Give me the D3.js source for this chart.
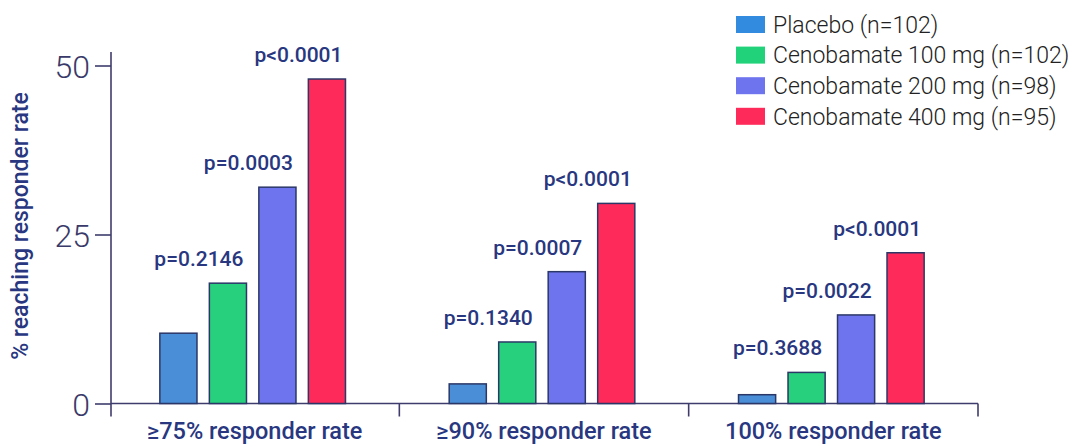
<!DOCTYPE html>
<html>
<head>
<meta charset="utf-8">
<script src="https://cdn.jsdelivr.net/npm/d3@7"></script>
<style>
  html, body { margin: 0; padding: 0; background: #ffffff; }
  svg { display: block; }
</style>
</head>
<body>
<svg id="chart" width="1078" height="445"></svg>
<script>
// ---- data ----
const categories = ["≥75% responder rate", "≥90% responder rate", "100% responder rate"];
const seriesNames = ["Placebo (n=102)", "Cenobamate 100 mg (n=102)", "Cenobamate 200 mg (n=98)", "Cenobamate 400 mg (n=95)"];
const placebo = [10.4, 2.9, 1.3];
const ceno100 = [17.8, 9.1, 4.6];
const ceno200 = [32.0, 19.5, 13.1];
const ceno400 = [48.0, 29.6, 22.3];
const pValues100 = ["p=0.2146", "p=0.1340", "p=0.3688"];
const pValues200 = ["p=0.0003", "p=0.0007", "p=0.0022"];
const pValues400 = ["p<0.0001", "p<0.0001", "p<0.0001"];
const yTicks = [0, 25, 50];
const yTitle = "% reaching responder rate";
const colors = ["#4a8ed8", "#27d07c", "#6e74ee", "#fe2b5a"];
const legendColors = ["#338be0", "#22d27a", "#6e74ee", "#fe2b5a"];

const seriesValues = [placebo, ceno100, ceno200, ceno400];
const seriesP = [null, pValues100, pValues200, pValues400];

// ---- layout ----
const svg = d3.select("#chart");
const navy = "#28377f";
const axisCol = "#3e3c6c";

const x0 = d3.scaleBand().domain(categories).range([110, 978]);
const x1 = d3.scaleBand().domain(seriesNames).range([0, 198]).paddingInner(0.25).paddingOuter(0.125);
const y = d3.scaleLinear().domain([0, 50]).range([403.5, 65.5]);

const groupOffset = c => x0(c) + x0.bandwidth() / 2 - 99 - 2;

// x axis baseline
svg.append("line")
  .attr("x1", 111).attr("x2", x0.range()[1])
  .attr("y1", y(0)).attr("y2", y(0))
  .attr("stroke", axisCol).attr("stroke-width", 1.6);

// x separators (band boundaries)
const boundaries = categories.map(c => x0(c) + x0.bandwidth());
svg.selectAll("line.sep").data(boundaries).join("line")
  .attr("class", "sep")
  .attr("x1", d => d).attr("x2", d => d)
  .attr("y1", y(0)).attr("y2", y(0) + 13)
  .attr("stroke", axisCol).attr("stroke-width", 1.6);

// y axis
const yAxis = d3.axisLeft(y).tickValues(yTicks).tickSize(16).tickPadding(5).tickFormat(d3.format("d"));
const gy = svg.append("g").attr("transform", "translate(111,0)").call(yAxis);
gy.select(".domain").remove();
gy.selectAll(".tick line").attr("stroke", axisCol).attr("stroke-width", 1.6);
gy.selectAll(".tick text")
  .attr("fill", "#3a3a6a")
  .attr("font-family", "Roboto, sans-serif")
  .attr("font-weight", 300)
  .attr("font-size", 32)
  .attr("dy", "0.36em");
svg.append("line")
  .attr("x1", 111).attr("x2", 111)
  .attr("y1", 52).attr("y2", y(0) + 13)
  .attr("stroke", axisCol).attr("stroke-width", 1.6);

// y title
svg.append("text")
  .attr("transform", "translate(28,226) rotate(-90)")
  .attr("text-anchor", "middle")
  .attr("fill", navy)
  .attr("font-family", "Roboto, sans-serif")
  .attr("font-weight", 500)
  .attr("font-size", 23)
  .text(yTitle);

// category labels
svg.selectAll("text.cat").data(categories).join("text")
  .attr("class", "cat")
  .attr("x", d => x0(d) + x0.bandwidth() / 2)
  .attr("y", 439)
  .attr("text-anchor", "middle")
  .attr("fill", navy)
  .attr("font-family", "Roboto, sans-serif")
  .attr("font-weight", 500)
  .attr("font-size", 23.5)
  .text(d => d);

// bars
const barData = [];
seriesNames.forEach((s, si) => {
  categories.forEach((c, ci) => {
    barData.push({ s, si, c, v: seriesValues[si][ci], p: seriesP[si] ? seriesP[si][ci] : null });
  });
});

svg.selectAll("rect.bar").data(barData).join("rect")
  .attr("class", "bar")
  .attr("x", d => groupOffset(d.c) + x1(d.s))
  .attr("y", d => y(d.v))
  .attr("width", x1.bandwidth())
  .attr("height", d => y(0) - y(d.v))
  .attr("fill", d => colors[d.si])
  .attr("stroke", "#2b3767")
  .attr("stroke-width", 1.5);

// p-value labels
svg.selectAll("text.pval").data(barData.filter(d => d.p)).join("text")
  .attr("class", "pval")
  .attr("x", d => groupOffset(d.c) + x1(d.s) + x1.bandwidth() - 3)
  .attr("y", d => y(d.v) - 17)
  .attr("text-anchor", "end")
  .attr("fill", navy)
  .attr("font-family", "Roboto, sans-serif")
  .attr("font-weight", 500)
  .attr("font-size", 21)
  .text(d => d.p);

// legend
const lg = svg.append("g").attr("transform", "translate(736,16)");
const rows = lg.selectAll("g").data(seriesNames).join("g")
  .attr("transform", (d, i) => `translate(0,${i * 30.6})`);
rows.append("rect")
  .attr("width", 29).attr("height", 17)
  .attr("fill", (d, i) => legendColors[i]);
rows.append("text")
  .attr("x", 37).attr("y", 8.5).attr("dy", "0.36em")
  .attr("fill", "#222")
  .attr("font-family", "Roboto, sans-serif")
  .attr("font-weight", 300)
  .attr("font-size", 23)
  .text(d => d);
</script>
</body>
</html>
